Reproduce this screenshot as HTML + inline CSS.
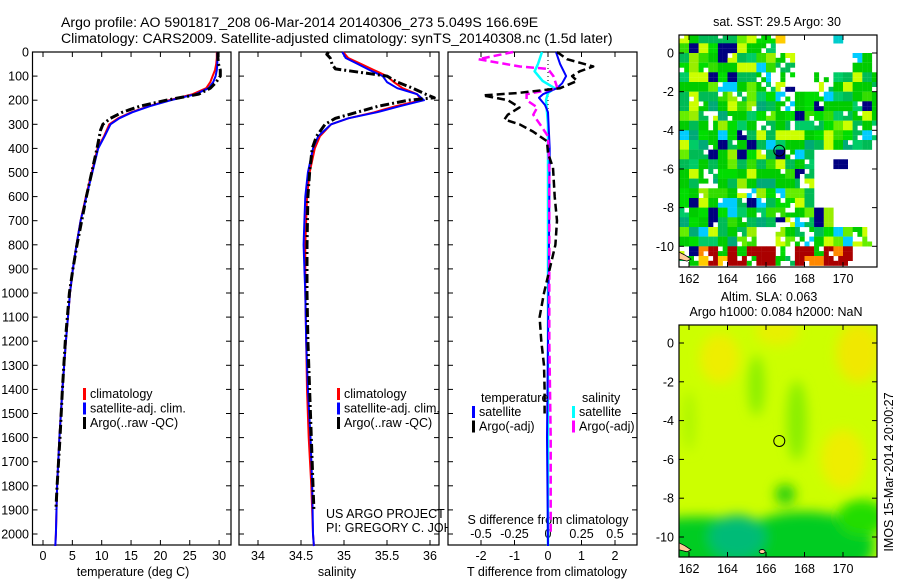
<!DOCTYPE html>
<html><head><meta charset="utf-8">
<style>
html,body{margin:0;padding:0;background:#fff;}
svg{display:block;font-family:"Liberation Sans",sans-serif;}
text{fill:#000;}
</style></head>
<body>
<svg id="fig" width="900" height="580" viewBox="0 0 900 580" xmlns="http://www.w3.org/2000/svg">
<text x="61" y="27" font-size="14.1">Argo profile: AO 5901817_208 06-Mar-2014 20140306_273 5.049S 166.69E</text>
<text x="61" y="43" font-size="14.1">Climatology: CARS2009. Satellite-adjusted climatology: synTS_20140308.nc (1.5d later)</text>
<g id="p1"></g>
<g id="p2"></g>
<g id="p3"></g>
<g id="m1"></g>
<g id="m2"></g>
</svg>
<script>
// ---- data ----
const climDepth=[0,25,50,75,100,125,150,175,200,225,250,275,300,350,400,500,600,700,800,900,1000,1200,1400,1600,1800,2000,2050];
const tempClim=[29.6,29.6,29.5,29.3,28.9,28.5,27.8,25.5,21.5,18,15,12.8,11.3,10.4,9.3,8.3,7.3,6.4,5.7,5.1,4.6,3.9,3.3,2.8,2.4,2.2,2.1];
const tempSat=[29.7,29.7,29.7,29.6,29.4,29.0,28.2,26.0,21.8,18.2,15.2,13.0,11.5,10.5,9.4,8.4,7.4,6.4,5.7,5.1,4.6,3.9,3.3,2.8,2.4,2.2,2.1];
const argoTDepth=[0,25,50,75,100,125,150,175,200,225,250,275,300,325,350,400,500,600,700,800,900,1000,1200,1400,1600,1800,1900];
const tempArgo=[29.8,29.8,29.9,30.2,30.2,29.5,28.5,26.5,21,16.5,13.5,11.5,10.2,9.8,9.6,9.2,8.3,7.4,6.6,5.8,5.1,4.5,3.8,3.3,2.9,2.4,2.2];
const salClim=[34.99,35.05,35.2,35.35,35.5,35.58,35.68,35.85,35.9,35.6,35.35,35.05,34.85,34.72,34.66,34.6,34.57,34.56,34.55,34.55,34.55,34.56,34.57,34.59,34.62,34.64,34.65];
const salSat=[34.98,35.02,35.16,35.3,35.45,35.5,35.62,35.85,35.93,35.65,35.38,35.05,34.85,34.7,34.64,34.58,34.55,34.54,34.53,34.54,34.55,34.56,34.58,34.61,34.63,34.64,34.65];
const argoSDepth=[0,10,25,50,70,80,90,100,125,150,175,190,200,225,250,275,300,350,400,500,600,800,1000,1200,1400,1600,1800,1900];
const salArgo=[34.82,34.8,34.84,34.86,34.9,35.1,35.3,35.5,35.62,35.8,35.95,36.05,35.75,35.4,35.15,34.9,34.78,34.68,34.63,34.6,34.58,34.57,34.57,34.58,34.6,34.62,34.64,34.65];
const dTArgoDepth=[0,30,60,80,100,120,150,170,180,200,230,260,280,300,330,370,420,480,600,700,800,900,1000,1100,1200,1300,1400,1500];
const dTArgo=[0.27,0.57,1.35,0.95,0.72,0.87,0.36,-0.9,-1.94,-1.2,-0.85,-1.2,-1.3,-0.85,-0.45,-0.03,0,0.15,0.2,0.27,0.22,0.05,-0.12,-0.25,-0.2,-0.12,-0.1,-0.1];
const dSArgoDepth=[0,30,60,70,100,150,175,200,230,260,300,350,500,800,1200,1600,2000];
const dSArgo=[-0.26,-0.52,-0.21,0,0.04,0.07,-0.16,-0.16,-0.08,-0.11,-0.06,0,0.01,0.01,0.01,0.02,0.02];
const dTSatDepth=[0,50,100,130,150,175,190,220,250,400,800,1200,1600,2050];
const dTSat=[0.24,0.36,0.54,0.42,0.27,-0.15,-0.27,-0.09,0,0.05,0.03,0,-0.03,0];
const dSSatDepth=[0,50,80,120,150,170,200,300,600,1000,1500,2050];
const dSSat=[-0.045,-0.075,-0.1,-0.04,0.05,0,-0.015,0,0,0,0,0];
const depthTicks=[0,100,200,300,400,500,600,700,800,900,1000,1100,1200,1300,1400,1500,1600,1700,1800,1900,2000];
const tempTicks=[0,5,10,15,20,25,30];
const salTicks=[34,34.5,35,35.5,36];
const dTTicks=[-2,-1,0,1,2];
const dSTicks=[-0.5,-0.25,0,0.25,0.5];
const latTicks=[0,-2,-4,-6,-8,-10];
const lonTicks=[162,164,166,168,170];
const sstMask=["####+o..c...","#####+...#..","####++.+###.","#####+#####+","#+##+#####+.","##########+.","#######.b...","#+####+.....","###+###.....","#####+##....","###+.++##+..","+rrrr+rrr..."];

// ---- helpers ----
const NS="http://www.w3.org/2000/svg";
function mk(parent,tag,attrs,txt){const e=document.createElementNS(NS,tag);for(const k in attrs)e.setAttribute(k,attrs[k]);if(txt!==undefined)e.textContent=txt;parent.appendChild(e);return e;}
const yD=d=>52+d*0.241;
const xT=t=>43+t*5.87;
const xS=s=>258+(s-34)*86;
const xDT=t=>548+t*33.5;
const xDS=s=>548+s*134;
const TOP=52,BOT=545;

function frame(g,x0,x1,y0,y1,name){
  const r=mk(g,'rect',{x:x0,y:y0,width:x1-x0,height:y1-y0,fill:'none',stroke:'#000','stroke-width':1.2});
  
  
}
function line(g,depths,vals,fx,color,w,dash,name){
  const pts=depths.map((d,i)=>fx(vals[i]).toFixed(1)+','+yD(d).toFixed(1)).join(' ');
  const p=mk(g,'polyline',{points:pts,fill:'none',stroke:color,'stroke-width':w,'stroke-linejoin':'round'});
  if(dash)p.setAttribute('stroke-dasharray',dash);
  
  
}
function xticks(g,ticks,fx,labels,ly,name,top){
  ticks.forEach((t,i)=>{
    const x=fx(t);
    mk(g,'line',{x1:x,x2:x,y1:BOT,y2:BOT-5,stroke:'#000'});
    if(top!==false)mk(g,'line',{x1:x,x2:x,y1:TOP,y2:TOP+5,stroke:'#000'});
    const tx=mk(g,'text',{x:x,y:ly,'font-size':12.5,'text-anchor':'middle'},labels[i]);
    
    
  });
}
function yticks(g,x0,x1,label){
  depthTicks.forEach(d=>{
    const y=yD(d);
    mk(g,'line',{x1:x0,x2:x0+5,y1:y,y2:y,stroke:'#000'});
    mk(g,'line',{x1:x1,x2:x1-5,y1:y,y2:y,stroke:'#000'});
    if(label){const t=mk(g,'text',{x:29,y:y+4.5,'font-size':12.5,'text-anchor':'end'},String(d));
      
      }
  });
}
function legend(g,x,y,items){
  items.forEach((it,i)=>{
    const yy=y+i*14.5;
    mk(g,'rect',{x:x,y:yy-10,width:3,height:12,fill:it[0]});
    const t=mk(g,'text',{x:x+7,y:yy,'font-size':12.5},it[1]);
    
    
  });
}

// ---- panel 1 ----
const p1=document.getElementById('p1');
frame(p1,32.5,231,TOP,BOT,'temperature-axes-frame');
yticks(p1,32.5,231,true);
xticks(p1,tempTicks,xT,tempTicks.map(String),560,'temperature-tick-label');
line(p1,climDepth,tempClim,xT,'#ff0000',2,null,'temperature-climatology-line');
line(p1,climDepth,tempSat,xT,'#0000ff',2,null,'temperature-satellite-line');
line(p1,argoTDepth,tempArgo,xT,'#000',3,'9,3,2,3','temperature-argo-line');
let t=mk(p1,'text',{x:133,y:576,'font-size':12.5,'text-anchor':'middle'},'temperature (deg C)');

legend(p1,83,398,[['#ff0000','climatology'],['#0000ff','satellite-adj. clim.'],['#000','Argo(..raw -QC)']]);

// ---- panel 2 ----
const p2=document.getElementById('p2');
frame(p2,239,439,TOP,BOT,'salinity-axes-frame');
yticks(p2,239,439,false);
xticks(p2,salTicks,xS,salTicks.map(String),560,'salinity-tick-label');
line(p2,climDepth,salClim,xS,'#ff0000',2,null,'salinity-climatology-line');
line(p2,climDepth,salSat,xS,'#0000ff',2,null,'salinity-satellite-line');
line(p2,argoSDepth,salArgo,xS,'#000',3,'9,3,2,3','salinity-argo-line');
t=mk(p2,'text',{x:337,y:576,'font-size':12.5,'text-anchor':'middle'},'salinity');

legend(p2,337,398,[['#ff0000','climatology'],['#0000ff','satellite-adj. clim.'],['#000','Argo(..raw -QC)']]);
t=mk(p2,'text',{x:326,y:518,'font-size':12.5},'US ARGO PROJECT');

t=mk(p2,'text',{x:326,y:532,'font-size':12.5},'PI: GREGORY C. JOHNSON');


// ---- panel 3 ----
const p3=document.getElementById('p3');
mk(p3,'rect',{x:448,y:TOP,width:189,height:BOT-TOP,fill:'#fff'});
frame(p3,448,637,TOP,BOT,'difference-axes-frame');
yticks(p3,448,637,false);
mk(p3,'line',{x1:548,x2:548,y1:TOP,y2:BOT,stroke:'#000','stroke-dasharray':'1,3'});
xticks(p3,dTTicks,xDT,dTTicks.map(String),560,'t-diff-tick-label');
dSTicks.forEach((s,i)=>{const tt=mk(p3,'text',{x:xDS(s),y:538,'font-size':12.5,'text-anchor':'middle'},String(s));
  });
t=mk(p3,'text',{x:548,y:524,'font-size':12.5,'text-anchor':'middle'},'S difference from climatology');

t=mk(p3,'text',{x:547,y:576,'font-size':12.5,'text-anchor':'middle'},'T difference from climatology');

line(p3,dSSatDepth,dSSat,xDS,'#00ffff',2.5,null,'s-diff-satellite-line');
line(p3,dTSatDepth,dTSat,xDT,'#0000ff',2,null,'t-diff-satellite-line');
line(p3,dSArgoDepth,dSArgo,xDS,'#ff00ff',2.5,'8,4','s-diff-argo-line');
line(p3,dTArgoDepth,dTArgo,xDT,'#000',2.5,'8,4','t-diff-argo-line');
t=mk(p3,'text',{x:481,y:402,'font-size':12.5},'temperature');

t=mk(p3,'text',{x:582,y:402,'font-size':12.5},'salinity');

legend(p3,472,416,[['#0000ff','satellite'],['#000','Argo(-adj)']]);
legend(p3,572,416,[['#00ffff','satellite'],['#ff00ff','Argo(-adj)']]);

// ---- maps ----
const lonX=l=>689+(l-162)*19.25;
function mapAxes(g,yLat,y0,y1,lonY,name){
  frame(g,679,877,y0,y1,name);
  latTicks.forEach(la=>{const y=yLat(la);
    mk(g,'line',{x1:679,x2:684,y1:y,y2:y,stroke:'#000'});
    mk(g,'line',{x1:877,x2:872,y1:y,y2:y,stroke:'#000'});
    const tt=mk(g,'text',{x:674,y:y+4.5,'font-size':12.5,'text-anchor':'end'},String(la));
    });
  lonTicks.forEach(lo=>{const x=lonX(lo);
    mk(g,'line',{x1:x,x2:x,y1:y0,y2:y0+5,stroke:'#000'});
    mk(g,'line',{x1:x,x2:x,y1:y1,y2:y1-5,stroke:'#000'});
    const tt=mk(g,'text',{x:x,y:lonY,'font-size':12.5,'text-anchor':'middle'},String(lo));
    });
}
function hash(i,j,k){let h=(i*374761393+j*668265263+k*2147483647)|0;h=(h^(h>>>13))*1274126177|0;return ((h^(h>>>16))>>>0)/4294967296;}
// SST map
const m1=document.getElementById('m1');
const yLat1=la=>53-la*19.33;
t=mk(m1,'text',{x:777,y:26,'font-size':12.5,'text-anchor':'middle'},'sat. SST: 29.5 Argo: 30');

mk(m1,'clipPath',{id:'c1'});
mk(document.getElementById('c1'),'rect',{x:679,y:35,width:198,height:232});
const cells=mk(m1,'g',{'clip-path':'url(#c1)'});
const pal=['#00cc00','#00dd00','#00bb55','#33dd00','#99ee00','#ccff00','#00cc00','#00aa77','#00cc00','#66ee00','#00bb55','#000080','#00cc00','#00dd00','#00cc66','#ccff00','#00bb55','#00ccff'];
const redPal=['#aa0000','#aa0000','#ff8800','#ffcc00','#00cc00','#aa0000'];
sstMask.forEach((row,r)=>{
  for(let c=0;c<row.length;c++){
    const ch=row[c];if(ch==='.')continue;
    for(let a=0;a<4;a++)for(let b=0;b<4;b++){
      const h=hash(r*4+a,c*4+b,1);
      let col;
      if(ch==='#'){if(h<0.04)continue;col=pal[Math.floor(hash(r*2+(a>>1),c*2+(b>>1),2)*pal.length)];}
      else if(ch==='+'){if(h<0.45)continue;col=pal[Math.floor(hash(r*2+(a>>1),c*2+(b>>1),2)*pal.length)];}
      else if(ch==='r'){if(h<0.1)continue;col=redPal[Math.floor(hash(r*2+(a>>1),c*2+(b>>1),2)*redPal.length)];}
      else if(ch==='o'){if(a>1||b>1)continue;col='#ffcc00';}
      else if(ch==='c'){if(a>1||b>1)continue;col='#00cccc';}
      else if(ch==='b'){if(a<2||b>2)continue;col='#000080';}
      const lon=161.5+c+b*0.25,lat=1-r-a*0.25;
      mk(cells,'rect',{x:lonX(lon).toFixed(1),y:yLat1(lat).toFixed(1),width:5,height:5,fill:col});
    }
  }
});
mk(cells,'path',{d:`M679,${yLat1(-10.3)} l6,3 l6,4 l-4,2 l-8,-2 z`,fill:'#ffcc99',stroke:'#000','stroke-width':0.8});
mapAxes(m1,yLat1,35,267,283,'sst-map-frame');
t=mk(m1,'circle',{cx:lonX(166.69),cy:yLat1(-5.049),r:5.5,fill:'none',stroke:'#000','stroke-width':1});

t=mk(m1,'text',{x:769,y:301,'font-size':12.5,'text-anchor':'middle'},'Altim. SLA: 0.063');

t=mk(m1,'text',{x:776,y:316,'font-size':12.5,'text-anchor':'middle'},'Argo h1000: 0.084 h2000: NaN');


// SLA map
const m2=document.getElementById('m2');
const yLat2=la=>343-la*19.4;
const defs=mk(m2,'defs',{});
const f=mk(defs,'filter',{id:'blr',x:'-50%',y:'-50%',width:'200%',height:'200%'});
mk(f,'feGaussianBlur',{stdDeviation:6});
mk(defs,'clipPath',{id:'c2'});
mk(document.getElementById('c2'),'rect',{x:679,y:325,width:198,height:232});
const sla=mk(m2,'g',{'clip-path':'url(#c2)'});
mk(sla,'rect',{x:679,y:325,width:198,height:232,fill:'#ccff00'});
const blobs=mk(sla,'g',{filter:'url(#blr)'});
[[163.6,-0.8,20,25,'#eeee00'],[166.6,0.6,22,14,'#e8f000'],[170.8,-0.5,22,30,'#f0e800'],[170,-6,22,30,'#eeee00'],
 [165.5,-2.2,8,30,'#88ee00'],[167.6,-4,10,40,'#88ee00'],[162,-4,6,30,'#aaf500'],
 [162.5,-10.5,80,30,'#00cc22'],[168,-10.5,70,35,'#00cc22'],[171,-9,25,18,'#22dd00'],[164.5,-10,28,22,'#00bb77'],[167,-7.8,10,10,'#22cc11']
].forEach(b=>mk(blobs,'ellipse',{cx:lonX(b[0]),cy:yLat2(b[1]),rx:b[2],ry:b[3],fill:b[4]}));
mk(sla,'path',{d:`M679,${yLat2(-10.3)} l6,3 l6,4 l-4,2 l-8,-2 z`,fill:'#ffcc99',stroke:'#000','stroke-width':0.8});
mk(sla,'ellipse',{cx:lonX(165.8),cy:yLat2(-10.75),rx:3,ry:2,fill:'#ffcc99',stroke:'#000','stroke-width':0.8});
mapAxes(m2,yLat2,325,557,573,'sla-map-frame');
t=mk(m2,'circle',{cx:lonX(166.69),cy:yLat2(-5.049),r:5.5,fill:'none',stroke:'#000','stroke-width':1});

t=mk(m2,'text',{x:893,y:472,'font-size':12.5,'text-anchor':'middle',transform:'rotate(-90 893 472)'},'IMOS 15-Mar-2014 20:00:27');

</script>
</body></html>
